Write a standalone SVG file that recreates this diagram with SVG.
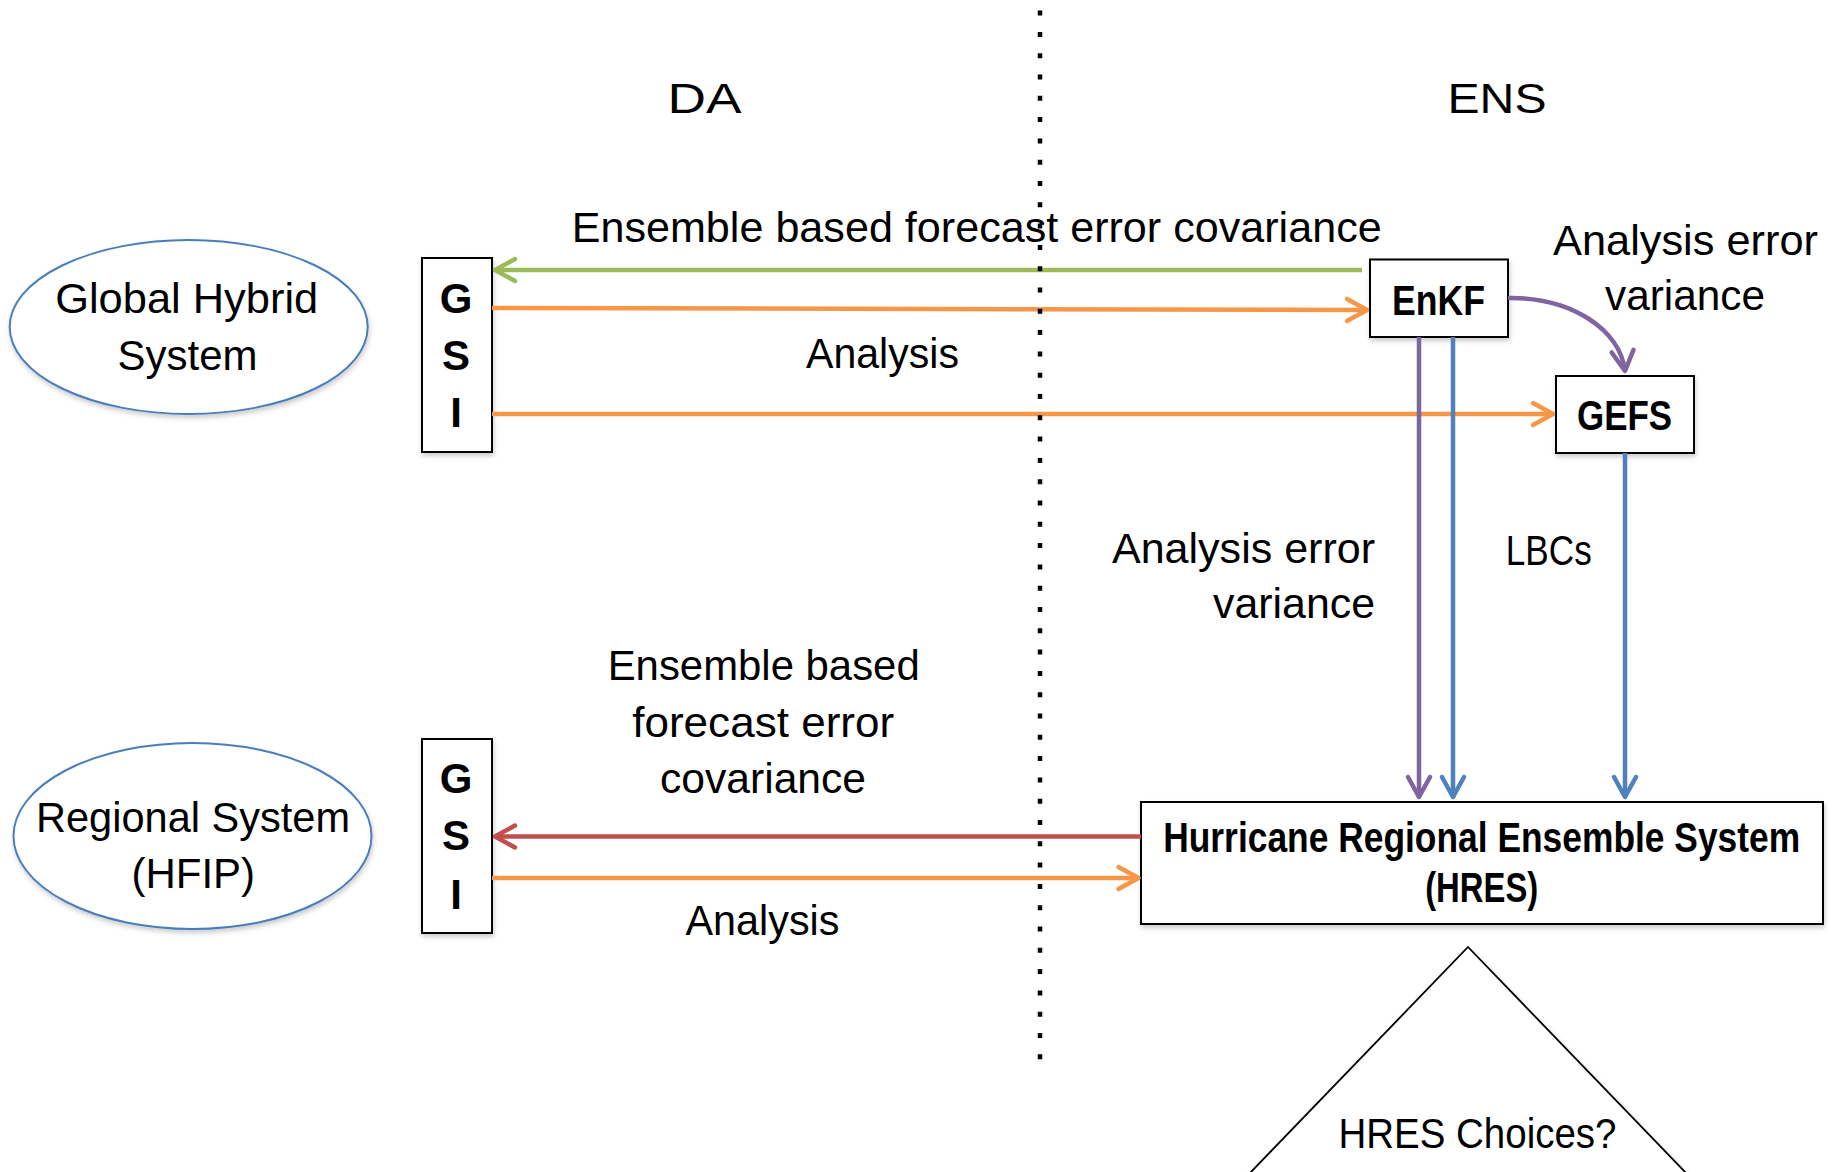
<svg xmlns="http://www.w3.org/2000/svg" width="1841" height="1172" viewBox="0 0 1841 1172">
<defs>
  <filter id="sh" x="-10%" y="-10%" width="130%" height="140%">
    <feDropShadow dx="1" dy="3" stdDeviation="2.5" flood-color="#000" flood-opacity="0.2"/>
  </filter>
  <marker id="aG" markerUnits="userSpaceOnUse" markerWidth="40" markerHeight="40" viewBox="-30 -20 40 40" refX="0" refY="0" orient="auto">
    <path d="M-20,-11 L0,0 L-20,11" fill="none" stroke="#9BBB59" stroke-width="4.5" stroke-linecap="round" stroke-linejoin="round"/>
  </marker>
  <marker id="aO" markerUnits="userSpaceOnUse" markerWidth="40" markerHeight="40" viewBox="-30 -20 40 40" refX="0" refY="0" orient="auto">
    <path d="M-20,-11 L0,0 L-20,11" fill="none" stroke="#F79646" stroke-width="4.5" stroke-linecap="round" stroke-linejoin="round"/>
  </marker>
  <marker id="aR" markerUnits="userSpaceOnUse" markerWidth="40" markerHeight="40" viewBox="-30 -20 40 40" refX="0" refY="0" orient="auto">
    <path d="M-20,-11 L0,0 L-20,11" fill="none" stroke="#C0504D" stroke-width="4.5" stroke-linecap="round" stroke-linejoin="round"/>
  </marker>
  <marker id="aP" markerUnits="userSpaceOnUse" markerWidth="40" markerHeight="40" viewBox="-30 -20 40 40" refX="0" refY="0" orient="auto">
    <path d="M-20,-11 L0,0 L-20,11" fill="none" stroke="#8064A2" stroke-width="4.5" stroke-linecap="round" stroke-linejoin="round"/>
  </marker>
  <marker id="aB" markerUnits="userSpaceOnUse" markerWidth="40" markerHeight="40" viewBox="-30 -20 40 40" refX="0" refY="0" orient="auto">
    <path d="M-20,-11 L0,0 L-20,11" fill="none" stroke="#4F81BD" stroke-width="4.5" stroke-linecap="round" stroke-linejoin="round"/>
  </marker>
</defs>
<style>
  .t{font-family:"Liberation Sans",Arial,sans-serif;font-size:42px;fill:#000}
  .b{font-weight:bold}
  .m{text-anchor:middle}
  .e{text-anchor:end}
  .box{fill:#fff;stroke:#000;stroke-width:2}
  .ell{fill:#fff;stroke:#4A7EBB;stroke-width:2}
  .c{fill:none;stroke-width:4.5}
</style>
<rect width="1841" height="1172" fill="#fff"/>

<g id="headers">
  <text class="t m" x="704.5" y="113" font-size="58" textLength="74" lengthAdjust="spacingAndGlyphs">DA</text>
  <text class="t m" x="1497" y="113" font-size="58" textLength="99" lengthAdjust="spacingAndGlyphs">ENS</text>
</g>

<g id="global-hybrid-system">
  <ellipse class="ell" cx="188.7" cy="327" rx="179" ry="87" filter="url(#sh)"/>
  <text class="t m" x="186.7" y="312.7" textLength="263" lengthAdjust="spacingAndGlyphs">Global Hybrid</text>
  <text class="t m" x="187.5" y="370">System</text>
</g>

<g id="regional-system">
  <ellipse class="ell" cx="192.5" cy="836" rx="179" ry="93" filter="url(#sh)"/>
  <text class="t m" x="193" y="831.7" textLength="314" lengthAdjust="spacingAndGlyphs">Regional System</text>
  <text class="t m" x="193.3" y="888.3">(HFIP)</text>
</g>

<g id="gsi-global">
  <rect class="box" x="422" y="258" width="70" height="194" filter="url(#sh)"/>
  <text class="t b m" x="456" y="312.7" font-size="40">G</text>
  <text class="t b m" x="456" y="370" font-size="40">S</text>
  <text class="t b m" x="456" y="427.3" font-size="40">I</text>
</g>

<g id="gsi-regional">
  <rect class="box" x="422" y="739" width="70" height="194" filter="url(#sh)"/>
  <text class="t b m" x="456" y="792.7" font-size="40">G</text>
  <text class="t b m" x="456" y="850" font-size="40">S</text>
  <text class="t b m" x="456" y="909.3" font-size="40">I</text>
</g>

<g id="enkf">
  <rect class="box" x="1370" y="259.5" width="138" height="77.5" filter="url(#sh)"/>
  <text class="t b m" x="1438.5" y="315" font-size="38" textLength="93" lengthAdjust="spacingAndGlyphs">EnKF</text>
</g>

<g id="gefs">
  <rect class="box" x="1556" y="376" width="138" height="77" filter="url(#sh)"/>
  <text class="t b m" x="1624.5" y="430" font-size="38" textLength="95" lengthAdjust="spacingAndGlyphs">GEFS</text>
</g>

<g id="hres">
  <rect class="box" x="1141" y="802" width="682" height="122" filter="url(#sh)"/>
  <text class="t b m" x="1481.7" y="851.7" font-size="34" textLength="637" lengthAdjust="spacingAndGlyphs">Hurricane Regional Ensemble System</text>
  <text class="t b m" x="1481.7" y="902" font-size="37" textLength="113" lengthAdjust="spacingAndGlyphs">(HRES)</text>
</g>

<g id="hres-choices">
  <polygon points="1468,947 1714,1202 1222,1202" fill="#fff" stroke="#000" stroke-width="1.8" filter="url(#sh)"/>
  <text class="t m" x="1477.5" y="1148.3" textLength="278" lengthAdjust="spacingAndGlyphs">HRES Choices?</text>
</g>

<g id="connectors">
  <path class="c" stroke="#9BBB59" d="M1362,270 L495,270" marker-end="url(#aG)"/>
  <path class="c" stroke="#F79646" d="M492,308 L1367,310" marker-end="url(#aO)"/>
  <path class="c" stroke="#F79646" d="M492,414 L1553,414" marker-end="url(#aO)"/>
  <path class="c" stroke="#8064A2" d="M1508,298 C1572,297 1620,330 1625,371" marker-end="url(#aP)"/>
  <path class="c" stroke="#8064A2" d="M1419,337 L1419,797" marker-end="url(#aP)"/>
  <path class="c" stroke="#4F81BD" d="M1453,337 L1453,797" marker-end="url(#aB)"/>
  <path class="c" stroke="#4F81BD" d="M1625,453 L1625,797" marker-end="url(#aB)"/>
  <path class="c" stroke="#C0504D" d="M1141,836.5 L495,836.5" marker-end="url(#aR)"/>
  <path class="c" stroke="#F79646" d="M492,878 L1138.5,878" marker-end="url(#aO)"/>
</g>

<g id="divider">
  <line x1="1040" y1="10.6" x2="1040" y2="1064" stroke="#000" stroke-width="4.5" stroke-dasharray="5 16.3"/>
</g>

<g id="labels">
  <text class="t m" x="976.7" y="241.7" textLength="810" lengthAdjust="spacingAndGlyphs">Ensemble based forecast error covariance</text>
  <text class="t m" x="882.5" y="368" textLength="153" lengthAdjust="spacingAndGlyphs">Analysis</text>
  <text class="t m" x="1685.5" y="255" textLength="265" lengthAdjust="spacingAndGlyphs">Analysis error</text>
  <text class="t m" x="1685" y="310" textLength="160" lengthAdjust="spacingAndGlyphs">variance</text>
  <text class="t e" x="1375" y="562.7" textLength="263" lengthAdjust="spacingAndGlyphs">Analysis error</text>
  <text class="t e" x="1375" y="618.3" textLength="162" lengthAdjust="spacingAndGlyphs">variance</text>
  <text class="t m" x="1548.8" y="565" textLength="86" lengthAdjust="spacingAndGlyphs">LBCs</text>
  <text class="t m" x="763.7" y="680" textLength="312" lengthAdjust="spacingAndGlyphs">Ensemble based</text>
  <text class="t m" x="763.2" y="736.7" textLength="262" lengthAdjust="spacingAndGlyphs">forecast error</text>
  <text class="t m" x="763" y="793.3" textLength="206" lengthAdjust="spacingAndGlyphs">covariance</text>
  <text class="t m" x="762.5" y="935" textLength="154" lengthAdjust="spacingAndGlyphs">Analysis</text>
</g>
</svg>
